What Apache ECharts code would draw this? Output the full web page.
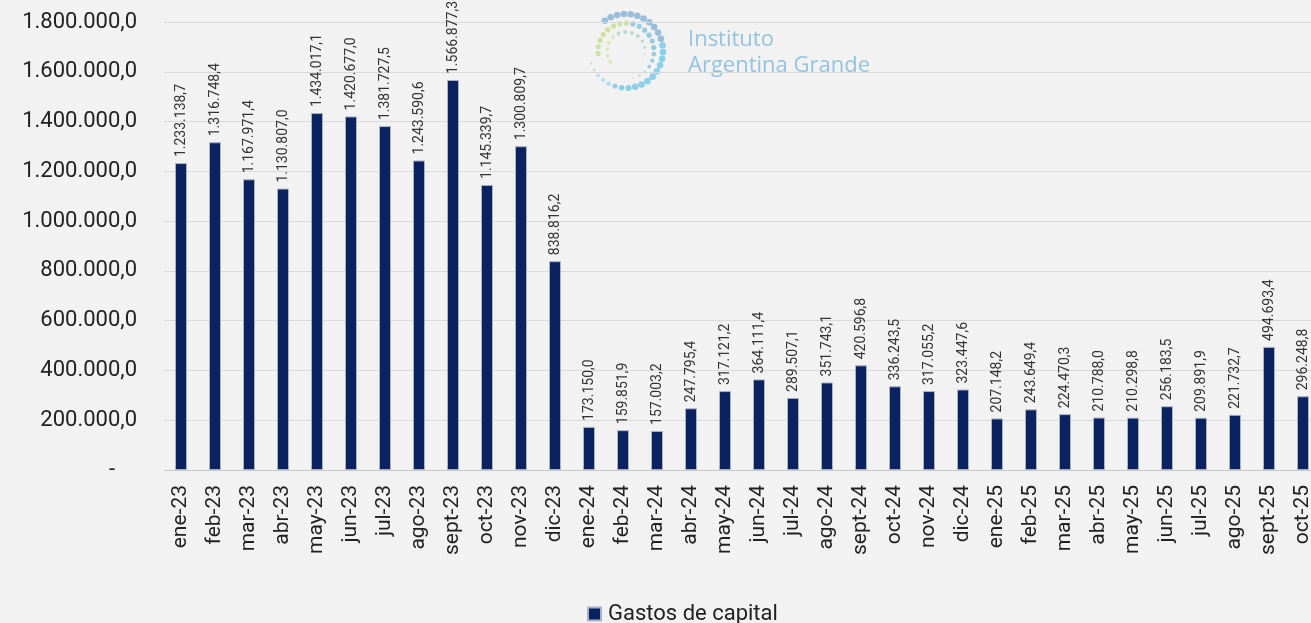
<!DOCTYPE html>
<html lang="es">
<head>
    <meta charset="UTF-8">
    <title>Gastos de capital</title>
    <script src="https://cdn.jsdelivr.net/npm/echarts@6/dist/echarts.min.js"></script>
    <style type="text/css">
        html, body { margin: 0; padding: 0; background: #f2f2f2; }
        #chart { width: 1311px; height: 623px; }
    </style>
</head>
<body>
<div id="chart"></div>
<script type="text/javascript">
    // meses
    var meses = ['ene-23','feb-23','mar-23','abr-23','may-23','jun-23','jul-23','ago-23','sept-23','oct-23','nov-23','dic-23',
        'ene-24','feb-24','mar-24','abr-24','may-24','jun-24','jul-24','ago-24','sept-24','oct-24','nov-24','dic-24',
        'ene-25','feb-25','mar-25','abr-25','may-25','jun-25','jul-25','ago-25','sept-25','oct-25'];
    // Gastos de capital (millones)
    var gastosCapital = [1233138.7,1316748.4,1167971.4,1130807.0,1434017.1,1420677.0,1381727.5,1243590.6,1566877.3,1145339.7,1300809.7,838816.2,
        173150.0,159851.9,157003.2,247795.4,317121.2,364111.4,289507.1,351743.1,420596.8,336243.5,317055.2,323447.6,
        207148.2,243649.4,224470.3,210788.0,210298.8,256183.5,209891.9,221732.7,494693.4,296248.8];
    var ejeMax = 1800000;
    var ejePaso = 200000;

    // formato 1.234.567,8
    function fmt(v){
        var partes = v.toFixed(1).split('.');
        var ent = partes[0].replace(/\B(?=(\d{3})+(?!\d))/g, '.');
        return ent + ',' + partes[1];
    }

    // logo: espiral de puntos (abierta abajo a la izquierda)
    var logo = [];
    var cx = 626, cy = 51;
    var anillos = [
        {r: 37, n: 28, tam: 3.3, desde: 125, hasta: -160, c1: '#8fb8d8', c2: '#7fcbe8'},
        {r: 28, n: 20, tam: 2.6, desde: 185, hasta: -75, c1: '#c9df9a', c2: '#8ec6e0'},
        {r: 19, n: 13, tam: 1.9, desde: 215, hasta: -30, c1: '#d6e6a8', c2: '#b0d4cc'}
    ];
    anillos.forEach(function(a){
        for(var i=0; i<a.n; i++){
            var t = i / (a.n - 1);
            var grados = a.desde + (a.hasta - a.desde) * t;
            var ang = grados * Math.PI / 180;
            // los puntos se achican al final de la espiral
            var esc = t > 0.7 ? 1 - (t - 0.7) / 0.3 * 0.65 : 1;
            logo.push({
                type: 'circle',
                silent: true,
                shape: {cx: cx + a.r * Math.cos(ang), cy: cy - a.r * Math.sin(ang), r: a.tam * esc},
                style: {fill: t < 0.4 ? a.c1 : a.c2, opacity: t > 0.85 ? 0.55 : 0.9}
            });
        }
    });
    logo.push({
        type: 'text', left: 688, top: 29, silent: true,
        style: {text: 'Instituto', fill: '#93c3df', font: '22px "Open Sans", sans-serif'}
    });
    logo.push({
        type: 'text', left: 688, top: 55, silent: true,
        style: {text: 'Argentina Grande', fill: '#93c3df', font: '22px "Open Sans", sans-serif'}
    });

    var myChart = echarts.init(document.getElementById('chart'));
    var option = {
        backgroundColor: '#f2f2f2',
        animation: false,
        textStyle: {fontFamily: 'Roboto, sans-serif'},
        graphic: logo,
        grid: {left: 164, width: 1156, top: 22, bottom: 153, outerBoundsMode: 'none'},
        legend: {
            left: 582, top: 598,
            icon: 'rect', itemWidth: 13, itemHeight: 13, itemGap: 8,
            textStyle: {fontSize: 22, color: '#222222', fontFamily: 'Roboto, sans-serif', padding: [0, 0, 0, 2]},
            data: ['Gastos de capital']
        },
        xAxis: {
            type: 'category',
            data: meses,
            axisLine: {lineStyle: {color: '#c8c8c8'}},
            axisTick: {show: false},
            axisLabel: {rotate: 90, fontSize: 21, color: '#222222', margin: 15, interval: 0}
        },
        yAxis: {
            type: 'value',
            min: 0, max: ejeMax, interval: ejePaso,
            axisLine: {show: false},
            axisTick: {show: false},
            splitLine: {lineStyle: {color: '#d9d9d9'}},
            axisLabel: {
                fontSize: 22, color: '#222222', margin: 27,
                formatter: function(v){ return v === 0 ? '-    ' : fmt(v); }
            }
        },
        series: [{
            name: 'Gastos de capital',
            type: 'bar',
            data: gastosCapital,
            barWidth: 12,
            itemStyle: {color: '#0b2260', borderColor: '#aab2c2', borderWidth: 1},
            label: {
                show: true, position: 'top', rotate: 90, align: 'left', verticalAlign: 'middle',
                distance: 6, fontSize: 14, color: '#333333',
                formatter: function(p){ return fmt(p.value); }
            }
        }]
    };
    myChart.setOption(option);
</script>
</body>
</html>
